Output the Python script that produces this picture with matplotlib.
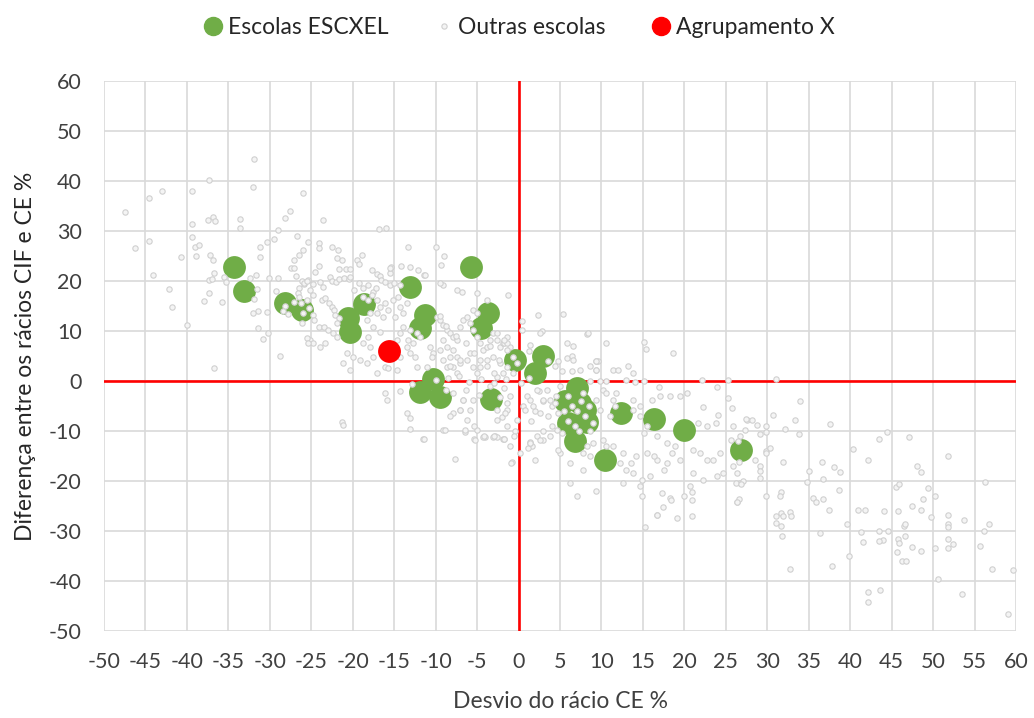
import numpy as np
import matplotlib
matplotlib.use("Agg")
import matplotlib.pyplot as plt
from matplotlib.lines import Line2D

# Escolas ESCXEL
escxel_x = [-34.3, -33.1, -28.2, -26.1, -20.6, -20.3, -18.6, -13.1, -11.3, -11.9, -10.3,
            -11.9, -9.5, -5.7, -3.7, -4.5, -3.3, -0.4, 3.0, 2.0, 7.0, 5.6, 7.4, 8.0,
            6.0, 8.2, 6.8, 12.3, 16.3, 19.9, 10.4, 26.8]
escxel_y = [22.8, 18.0, 15.6, 14.2, 12.6, 9.8, 15.4, 18.8, 13.2, 10.6, 0.4,
            -2.2, -3.2, 22.8, 13.6, 10.6, -3.6, 4.2, 5.0, 1.5, -1.5, -4.1, -4.5, -5.8,
            -8.5, -8.3, -12.1, -6.5, -7.7, -9.9, -15.9, -13.8]

# Agrupamento X
agrup_x = [-15.6]
agrup_y = [6.0]

# Outras escolas (x, y)
outras = [
    (-31.9, 44.4), (-37.3, 40.2), (-32.0, 38.8), (-43.0, 38.0), (-39.4, 38.0), (-26.0, 37.6),
    (-44.6, 36.6), (-47.5, 33.8), (-27.6, 34.0), (-28.2, 32.6), (-37.5, 32.2), (-36.9, 32.8),
    (-36.6, 32.0), (-39.4, 31.4), (-33.6, 32.4), (-33.6, 30.6), (-29.0, 30.2), (-39.4, 28.8),
    (-44.6, 28.0), (-29.5, 28.4), (-30.3, 27.8), (-26.7, 29.0), (-46.3, 26.6), (-39.0, 26.8),
    (-38.5, 27.2), (-31.2, 26.8), (-26.0, 26.2), (-26.5, 25.2), (-40.7, 24.8), (-38.9, 25.0),
    (-37.2, 25.2), (-36.9, 24.2), (-31.2, 24.8), (-27.1, 24.2), (-27.4, 22.6), (-27.1, 22.6),
    (-44.1, 21.2), (-36.7, 21.6), (-35.5, 20.8), (-35.3, 19.8), (-37.3, 20.2), (-37.0, 20.4),
    (-31.7, 21.2), (-32.4, 20.6), (-30.1, 20.6), (-29.0, 20.6), (-26.8, 21.0), (-26.5, 18.6),
    (-25.9, 19.4), (-25.4, 20.2), (-26.6, 17.6), (-26.5, 16.8), (-42.2, 18.4), (-37.3, 17.6),
    (-37.9, 16.0), (-35.8, 15.8), (-31.5, 18.4), (-31.9, 16.4), (-29.2, 18.0), (-41.8, 14.8),
    (-31.4, 14.0), (-32.0, 13.6), (-30.3, 13.8), (-40.0, 11.2), (-31.4, 10.6), (-30.2, 9.6),
    (-30.8, 8.4), (-26.1, 11.6), (-27.1, 15.8), (-26.3, 15.6), (-26.0, 13.6), (-28.2, 15.0),
    (-28.4, 14.0), (-27.8, 13.4), (-23.6, 32.2), (-16.8, 30.4), (-16.0, 30.6), (-25.4, 27.8),
    (-24.1, 27.6), (-24.1, 26.6), (-24.1, 23.0), (-22.5, 26.8), (-21.8, 26.2), (-21.9, 24.6),
    (-21.3, 24.2), (-21.7, 22.4), (-20.8, 22.4), (-20.3, 22.4), (-19.5, 24.2), (-19.2, 23.4),
    (-18.9, 25.2), (-17.7, 22.2), (-15.4, 22.8), (-14.2, 23.0), (-13.3, 26.8), (-10.0, 26.8),
    (-9.0, 25.0), (-9.3, 23.2), (-24.5, 21.8), (-17.1, 21.4), (-16.7, 21.0), (-15.5, 21.6),
    (-15.5, 22.6), (-13.1, 22.8), (-12.1, 22.2), (-11.4, 21.2), (-9.1, 19.2),
    (-26.1, 20.0), (-25.9, 19.6), (-25.5, 20.0), (-24.8, 19.4), (-24.0, 19.8), (-23.6, 18.8),
    (-22.7, 20.8), (-22.5, 20.0), (-22.0, 19.8), (-21.6, 20.4), (-21.1, 20.6), (-20.5, 20.4),
    (-20.3, 20.8), (-19.9, 18.2), (-19.3, 19.6), (-18.8, 18.6), (-18.2, 19.2), (-17.6, 17.8),
    (-17.2, 18.6), (-16.6, 20.2), (-16.1, 19.8), (-15.5, 19.2), (-15.0, 19.6), (-14.3, 19.2),
    (-25.1, 18.2), (-24.8, 17.2), (-23.7, 16.2), (-23.3, 16.6), (-22.9, 15.6), (-22.5, 14.8),
    (-22.3, 14.2), (-22.1, 13.2), (-21.7, 12.6), (-21.9, 11.6), (-25.5, 16.2), (-25.3, 14.6),
    (-24.8, 13.2), (-24.7, 12.2), (-24.1, 10.8), (-23.5, 10.8), (-23.0, 10.2), (-22.4, 9.6),
    (-21.9, 8.8), (-25.1, 8.2), (-24.8, 7.6), (-23.9, 6.8), (-23.3, 7.6),
    (-18.8, 16.8), (-18.2, 16.2), (-17.7, 17.2), (-17.1, 16.2), (-16.7, 14.8), (-16.1, 15.6),
    (-15.7, 14.2), (-15.1, 16.2), (-14.5, 16.8), (-14.3, 14.8), (-13.9, 13.6), (-13.5, 15.6),
    (-14.9, 12.8), (-16.3, 12.8), (-17.1, 13.6), (-17.9, 13.6), (-18.3, 12.2), (-17.6, 10.8),
    (-16.7, 9.8), (-18.2, 8.8), (-18.8, 7.6), (-17.9, 6.8), (-17.6, 4.8), (-18.3, 3.6),
    (-19.1, 4.2), (-20.0, 4.8), (-20.7, 5.6), (-21.2, 3.6), (-20.3, 2.2), (-17.1, 1.6),
    (-16.1, 2.8), (-15.7, 2.6), (-14.7, 2.2), (-14.3, 4.8), (-13.5, 6.8), (-13.1, 5.6),
    (-12.5, 4.8), (-12.2, 2.8), (-12.7, 7.6), (-13.3, 8.2), (-14.3, 9.6), (-14.7, 8.2),
    (-13.9, 10.8), (-13.1, 10.2), (-12.2, 9.6), (-11.9, 8.8),
    (-16.1, -2.4), (-15.9, -3.8), (-14.3, -2.0), (-13.5, -6.4), (-13.1, -7.4), (-13.1, -9.6),
    (-11.5, -11.6), (-21.3, -8.2), (-21.2, -8.8), (-9.1, -9.8), (-7.9, -6.4), (-6.7, -3.8),
    (-5.5, -3.8), (-7.1, -5.8), (-6.2, -7.8), (-5.0, -9.8), (-4.0, -11.2), (-3.1, -11.2),
    (-1.9, -11.6), (-2.0, -7.2), (-1.4, -5.8), (-2.6, -5.8), (-2.2, -3.2),
    (-11.3, 21.2), (-9.5, 19.6), (-7.4, 18.2), (-6.8, 17.8), (-5.0, 17.6), (-5.5, 14.2),
    (-5.0, 13.6), (-1.3, 17.2), (-3.8, 16.2),
    (-9.8, 12.8), (-9.5, 12.2), (-9.1, 11.2), (-8.6, 10.2), (-8.3, 9.6), (-7.9, 8.8),
    (-7.4, 8.2), (-7.1, 10.8), (-6.7, 12.2), (-6.2, 12.8), (-5.9, 11.6), (-5.5, 10.2),
    (-5.0, 8.8), (-4.6, 7.6), (-4.3, 6.2), (-3.8, 6.8), (-3.4, 8.2), (-3.1, 9.6),
    (-2.6, 8.2), (-2.2, 6.8), (-1.9, 7.6), (-1.4, 8.8), (-1.0, 6.8), (-0.7, 4.8),
    (-0.2, 3.6), (-7.9, 6.2), (-7.4, 4.8), (-7.1, 3.6), (-6.2, 4.2), (-5.9, 5.6),
    (-5.5, 2.8), (-5.0, 1.6), (-4.6, 2.8), (-3.8, 4.2), (-3.1, 4.8), (-2.2, 3.6),
    (-1.4, 2.8), (-0.7, 1.6), (-1.9, 1.6), (-2.6, 0.8), (-9.1, 8.2), (-8.6, 6.8),
    (-8.3, 4.8), (-7.9, 2.8), (-7.4, 1.6), (-8.6, 2.8), (-9.1, 4.2), (-9.5, 6.2),
    (-10.3, 5.6), (-10.7, 6.8), (-10.4, 4.8), (-11.0, 2.8),
    (2.4, 13.2), (5.3, 13.4), (8.3, 9.3), (2.8, 9.9), (0.4, 11.9), (0.4, 10.2),
    (-1.8, 7.5), (-1.4, 7.5), (1.4, 7.2), (1.2, 5.9), (3.6, 3.9), (4.8, 3.9),
    (4.4, 2.9), (5.2, 1.9), (5.8, 4.5), (6.6, 6.9), (6.5, 4.9), (6.4, 1.9),
    (8.6, 2.9), (9.3, 3.9), (9.6, 3.9), (9.4, 2.2), (10.6, 7.5), (11.4, 2.2),
    (12.0, 2.2), (13.2, 2.9), (13.8, 1.5), (15.1, 7.7), (15.4, 6.3), (18.6, 5.5),
    (12.9, 0.2), (14.1, -0.3), (15.1, 0.0), (16.9, -1.3), (17.1, -3.1), (16.1, -3.8),
    (18.3, -3.1), (19.5, -3.1), (20.3, -2.5), (22.1, 0.2), (23.9, -1.3), (25.3, 0.1),
    (25.3, -3.5), (22.3, -5.3), (24.0, -6.8), (21.7, -8.5), (22.7, -9.1), (23.8, -8.5),
    (25.9, -9.1), (27.5, -7.8), (8.6, -0.1), (9.8, -0.1), (10.6, 0.0), (10.2, -1.8),
    (10.6, -2.5), (11.8, -2.5), (11.4, -3.8), (9.4, -3.8), (9.8, -5.8), (11.0, -7.1),
    (11.6, -5.1), (13.8, -3.8), (13.8, -5.8), (14.6, -5.1), (14.6, -7.1), (15.5, -9.1),
    (15.1, -10.5), (16.7, -11.1), (17.9, -12.5), (18.9, -13.1), (18.5, -14.5), (19.5, -15.8),
    (21.1, -13.8), (21.9, -14.5), (22.7, -15.8), (24.3, -14.5), (23.5, -15.8), (25.9, -17.1),
    (26.3, -18.5), (26.7, -20.5), (27.1, -20.1), (24.7, -18.5), (23.9, -19.1), (21.1, -18.5),
    (20.7, -21.1), (20.9, -22.3), (22.3, -19.8), (17.5, -17.8), (17.9, -16.5), (16.7, -15.8),
    (16.3, -15.1), (15.5, -14.5), (14.2, -15.1), (13.6, -16.5), (13.8, -18.5), (13.0, -17.8),
    (12.2, -16.5), (12.6, -14.5), (11.4, -13.1), (10.6, -13.1), (10.2, -11.8), (9.0, -12.5),
    (8.2, -13.1), (7.8, -14.5), (8.6, -15.1), (7.8, -17.8), (6.2, -16.5), (6.2, -20.5),
    (7.0, -23.1), (9.4, -22.1), (12.6, -20.5), (14.9, -19.8), (15.9, -19.1), (17.3, -22.5),
    (18.3, -23.5), (19.9, -23.1), (20.9, -23.8), (16.7, -26.8), (14.9, -23.1), (14.6, -21.1),
    (5.0, -14.5), (4.8, -13.8), (3.0, -11.8), (2.0, -15.8), (1.6, -13.1), (-0.8, -16.3),
    (-1.8, -11.7), (1.4, -12.5), (0.2, -14.5), (-1.0, -13.1), (26.7, -11.1), (27.3, -9.8),
    (6.0, -3.0), (6.5, -5.0), (7.0, -6.0), (7.5, -4.0), (8.0, -7.0), (6.8, -9.0),
    (7.3, -10.0), (5.5, -6.0), (8.5, -5.0), (6.0, -8.0), (7.8, -2.5), (5.0, -1.0),
    (4.5, -3.0), (4.0, -5.0), (3.5, -7.0), (3.0, -4.0), (2.5, -2.0), (2.0, -6.0),
    (1.5, -8.0), (1.0, -3.0), (0.5, -5.0), (4.0, -9.0), (3.0, -10.0), (2.2, -11.0),
    (9.0, -8.5), (8.6, -10.0), (5.2, -10.5),
    (25.8, -5.5), (27.4, -7.6), (28.2, -7.8), (28.7, -8.9), (29.8, -9.1), (29.8, -10.2),
    (29.1, -10.7), (30.7, -6.8), (33.3, -7.9), (33.9, -4.0), (32.1, -9.7), (33.8, -10.7),
    (37.6, -8.6), (25.6, -11.8), (26.5, -12.1), (29.8, -14.0), (30.3, -13.5), (29.9, -14.5),
    (28.5, -15.8), (29.1, -17.0), (29.1, -18.1), (29.1, -19.4), (26.6, -16.3), (31.9, -16.3),
    (36.6, -16.3), (35.0, -18.0), (34.8, -20.2), (36.7, -19.7), (38.0, -17.3), (38.8, -18.3),
    (40.3, -13.7), (42.1, -15.8), (43.5, -11.7), (44.4, -10.2), (47.1, -11.2), (51.8, -15.0),
    (48.0, -17.1), (48.6, -18.3), (26.2, -20.5), (26.8, -20.7), (26.4, -24.2), (26.6, -23.7),
    (29.9, -23.0), (31.6, -22.2), (31.5, -23.0), (35.5, -23.5), (35.9, -24.3), (36.7, -23.7),
    (38.7, -21.9), (37.5, -25.8), (31.0, -27.1), (31.7, -26.5), (31.9, -27.1), (32.7, -26.3),
    (32.9, -27.1), (31.0, -28.4), (31.7, -29.1), (31.8, -31.1), (36.4, -30.5), (39.6, -28.6),
    (41.0, -25.8), (41.8, -25.8), (44.1, -26.1), (45.5, -21.2), (45.9, -20.7), (47.5, -25.1),
    (48.5, -25.8), (48.8, -23.7), (49.4, -21.5), (50.2, -23.0), (45.8, -26.1), (49.7, -27.3),
    (46.5, -29.1), (46.6, -28.6), (41.3, -30.2), (41.5, -32.3), (43.5, -30.1), (44.0, -31.8),
    (43.5, -32.0), (44.6, -30.1), (45.8, -31.7), (45.9, -32.5), (46.6, -31.1), (45.7, -34.3),
    (47.5, -33.3), (48.5, -34.1), (46.3, -36.1), (46.7, -36.1), (50.2, -33.5), (51.8, -26.9),
    (51.8, -28.6), (51.8, -29.3), (51.8, -31.7), (51.8, -33.5), (52.4, -32.7), (53.7, -27.9),
    (56.2, -20.2), (56.8, -28.6), (56.1, -30.1), (55.7, -33.0), (57.1, -37.6), (59.6, -37.9),
    (50.6, -39.7), (53.5, -42.7), (59.0, -46.6), (42.1, -42.2), (42.1, -44.3), (43.6, -41.9),
    (32.8, -37.6), (37.8, -37.1), (39.8, -35.0), (31.1, 0.3),
    (-36.7, 2.6), (-28.8, 5.0), (-25.5, 8.6), (-25.4, 7.6),
    (-11.4, -11.6), (-7.7, -15.6), (-5.4, -11.6), (-4.3, -11.2), (-2.8, -11.0), (-2.6, -11.2),
    (-1.7, -11.6), (-0.9, -16.4), (-0.4, -10.0), (1.1, -13.4), (1.4, -12.2), (-6.5, -10.2),
    (15.3, -29.2), (16.7, -26.8), (17.4, -25.2), (19.1, -27.4), (20.9, -27.0), (18.4, -23.8),
    (26.4, -24.2),
    (-8.7, -1.8), (-7.9, -2.5), (-6.7, -3.8), (-5.9, -5.8), (-7.1, -5.8), (-8.3, -7.1),
    (-8.9, -9.8), (-6.5, -9.8), (-5.4, -9.1), (-5.2, -11.8), (-4.2, -11.1), (-3.0, -11.1),
    (-2.6, -7.8), (-1.6, -6.5), (-1.4, -9.1), (-0.6, -11.1), (-0.2, -7.8), (0.8, -5.8),
    (1.4, -3.8), (1.8, -5.1), (2.6, -6.5), (3.0, -3.8), (2.2, -1.8), (3.4, -1.8),
    (3.8, -3.8), (1.4, -12.5), (2.6, -11.8), (3.8, -11.1), (4.6, -9.8), (4.8, -6.5),
    (4.4, -4.5), (-1.4, -4.5), (-1.0, -3.1), (-4.8, -2.8), (-6.3, -1.8), (-3.4, -1.1),
    (-1.8, -1.5),
    (-10.0, 0.2), (-8.5, 0.5), (-6.0, -0.3), (-4.5, 0.4), (-3.0, -0.5), (-1.5, 0.3),
    (0.3, -0.4), (1.2, 0.6), (-12.8, -0.6), (-7.2, 1.0),
    (-9.5, 12.9), (-8.7, 10.9), (-7.5, 8.9), (-6.3, 7.5), (-5.4, 5.5), (-4.6, 4.2),
    (-3.8, 2.9), (-3.0, 1.5), (-7.1, 4.2), (-8.3, 2.9), (-2.6, 9.5), (-1.8, 8.2),
    (-1.4, 6.2), (-2.4, 4.2), (-3.4, 6.9), (2.6, 9.5), (5.8, 7.5), (6.6, 4.2),
    (7.4, 2.2), (9.4, 3.9), (9.4, 2.2), (8.4, 9.5),
]
outras_x, outras_y = np.array(outras).T

plt.rcParams['font.family'] = ['Lato', 'DejaVu Sans']
plt.rcParams['axes.unicode_minus'] = False
font = dict(family=['Lato', 'DejaVu Sans'])

fig = plt.figure(figsize=(10.34, 7.18), dpi=100)
ax = fig.add_axes([0.1006, 0.1212, 0.882, 0.766])

ax.axhline(0, color="#ff0000", lw=1.9, zorder=1.5)
ax.axvline(0, color="#ff0000", lw=1.9, zorder=1.5)

ax.scatter(escxel_x, escxel_y, s=270, color="#70ad47", linewidths=0, zorder=2)
ax.scatter(outras_x, outras_y, s=15, facecolor="#f4f4f4", edgecolor="#d0d0d0",
           linewidths=0.8, zorder=3)
ax.scatter(agrup_x, agrup_y, s=270, color="#ff0000", linewidths=0, zorder=4)

ax.set_xlim(-50, 60)
ax.set_ylim(-50, 60)
ax.set_xticks(np.arange(-50, 61, 5))
ax.set_yticks(np.arange(-50, 61, 10))
ax.grid(True, color="#d9d9d9", lw=1.2, zorder=0)
ax.set_axisbelow(True)
for s in ax.spines.values():
    s.set_visible(False)
ax.tick_params(length=0, labelsize=15.5, labelcolor="#404040")
ax.tick_params(axis="x", pad=15)
ax.tick_params(axis="y", pad=16)
for lbl in ax.get_xticklabels() + ax.get_yticklabels():
    lbl.set_fontfamily(['Lato', 'DejaVu Sans'])

ax.set_xlabel("Desvio do rácio CE %", fontsize=16.5, color="#404040", labelpad=14, **font)
ax.set_ylabel("Diferença entre os rácios CIF e CE %", fontsize=16.5, color="#262626",
              labelpad=9, **font)

handles = [
    Line2D([], [], ls="none", marker="o", ms=13, color="#70ad47"),
    Line2D([], [], ls="none", marker="o", ms=3.8, mfc="#f4f4f4", mec="#d0d0d0", mew=0.8),
    Line2D([], [], ls="none", marker="o", ms=13, color="#ff0000"),
]
fig.legend(handles, ["Escolas ESCXEL", "Outras escolas", "Agrupamento X"],
           loc="center", bbox_to_anchor=(0.5, 0.962), ncol=3, frameon=False,
           prop=dict(family=['Lato', 'DejaVu Sans'], size=16.5), labelcolor="#262626",
           handletextpad=0.05, columnspacing=1.8, handlelength=1.2)

fig.savefig("out.png", dpi=100)
